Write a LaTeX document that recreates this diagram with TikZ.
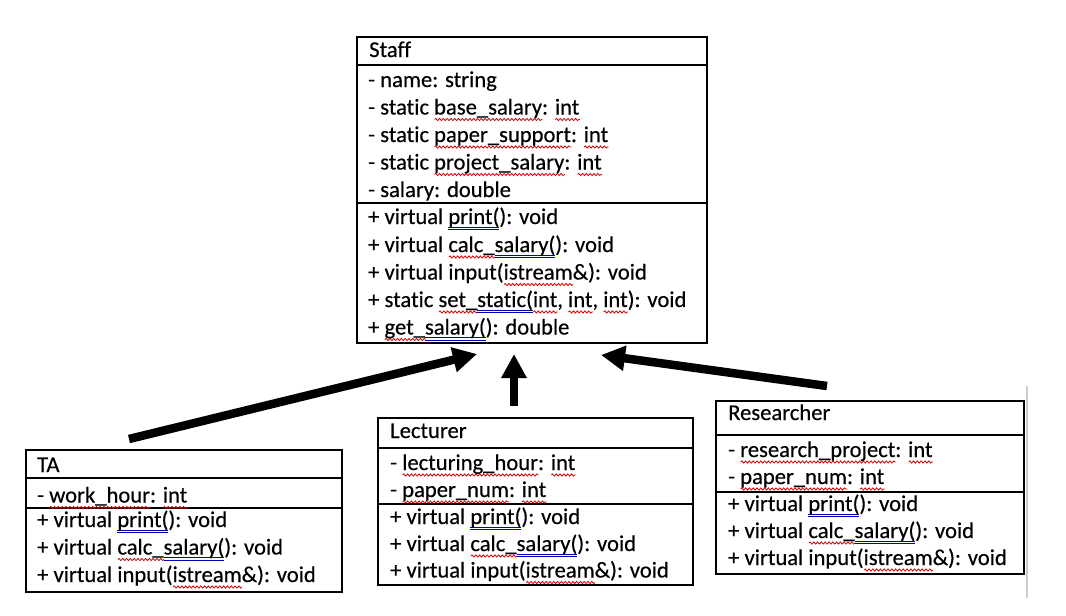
\documentclass[tikz,border=0pt]{standalone}
\usepackage{fontspec}
\setmainfont{Carlito}[Ligatures=NoCommon,FakeBold=0.35]
\usetikzlibrary{arrows.meta,decorations.pathmorphing}
\newsavebox\sqbox
\newlength\sqw
\newcommand\sq[1]{\sbox\sqbox{#1}\setlength\sqw{\wd\sqbox}\rlap{\tikz[baseline=0pt]\draw[red!85!black,line width=0.8pt,decoration={snake,amplitude=1.1pt,segment length=3.8pt},decorate] (0pt,-5pt) -- (\sqw,-5pt);}\usebox\sqbox}
\newcommand\bq[1]{\sbox\sqbox{#1}\setlength\sqw{\wd\sqbox}\rlap{\textcolor{blue!70!black}{\rule[-3.4pt]{\sqw}{0.8pt}}}\rlap{\textcolor{blue!70!black}{\rule[-6pt]{\sqw}{0.8pt}}}\usebox\sqbox}
\begin{document}
\begin{tikzpicture}[x=1pt,y=-1pt,
  cell/.style={draw,line width=1.6pt,anchor=north west,inner sep=0pt,outer sep=0pt},
  txt/.style={anchor=base west,inner sep=0pt,font=\fontsize{22.6}{27}\selectfont},
  inh/.style={line width=8.5pt,-{Triangle[length=24pt,width=24pt]}}]
\useasboundingbox[fill=white] (0,0) rectangle (1066,616);

% Staff
\node[cell,minimum width=350pt,minimum height=28pt] (staffT) at (357,37) {};
\node[cell,minimum width=350pt,minimum height=138pt] (staffA) at (357,65) {};
\node[cell,minimum width=350pt,minimum height=140pt] (staffM) at (357,203) {};
\node[txt] (s0) at (369,57) {Staff};
\node[txt] (s1) at (368,87) {- name: string};
\node[txt] (s2) at (368,114.5) {- static \sq{base\_salary}: \sq{int}};
\node[txt] (s3) at (368,142) {- static \sq{paper\_support}: \sq{int}};
\node[txt] (s4) at (368,169.5) {- static \sq{project\_salary}: \sq{int}};
\node[txt] (s5) at (368,197) {- salary: double};
\node[txt] (s6) at (368,224) {+ virtual \bq{print(}): void};
\node[txt] (s7) at (368,252) {+ virtual \sq{calc\_}\bq{salary(}): void};
\node[txt] (s8) at (368,279.5) {+ virtual input(\sq{istream}\&): void};
\node[txt] (s9) at (368,307) {+ static \sq{set\_}\bq{static(}\sq{int}, \sq{int}, \sq{int}): void};
\node[txt] (s10) at (368,334.5) {+ \sq{get\_}\bq{salary(}): double};

% TA
\node[cell,minimum width=316pt,minimum height=28pt] (taT) at (26,450) {};
\node[cell,minimum width=316pt,minimum height=30pt] (taA) at (26,478) {};
\node[cell,minimum width=316pt,minimum height=84pt] (taM) at (26,508) {};
\node[txt] (t0) at (37,472) {TA};
\node[txt] (t1) at (37,502.5) {- \sq{work\_hour}: \sq{int}};
\node[txt] (t2) at (37,527) {+ virtual \bq{print(}): void};
\node[txt] (t3) at (37,554.5) {+ virtual \sq{calc\_}\bq{salary(}): void};
\node[txt] (t4) at (37,582) {+ virtual input(\sq{istream}\&): void};

% Lecturer
\node[cell,minimum width=315pt,minimum height=30pt] (leT) at (378,418) {};
\node[cell,minimum width=315pt,minimum height=56pt] (leA) at (378,448) {};
\node[cell,minimum width=315pt,minimum height=81pt] (leM) at (378,504) {};
\node[txt] (l0) at (390,438) {Lecturer};
\node[txt] (l1) at (390,470) {- \sq{lecturing\_hour}: \sq{int}};
\node[txt] (l2) at (390,497) {- \sq{paper\_num}: \sq{int}};
\node[txt] (l3) at (390,524) {+ virtual \bq{print(}): void};
\node[txt] (l4) at (390,551) {+ virtual \sq{calc\_}\bq{salary(}): void};
\node[txt] (l5) at (390,577.5) {+ virtual input(\sq{istream}\&): void};

% Researcher
\node[cell,minimum width=308pt,minimum height=34pt] (reT) at (716,401) {};
\node[cell,minimum width=308pt,minimum height=57pt] (reA) at (716,435) {};
\node[cell,minimum width=308pt,minimum height=82pt] (reM) at (716,492) {};
\node[txt] (r0) at (728,420) {Researcher};
\node[txt] (r1) at (728,457) {- \sq{research\_project}: \sq{int}};
\node[txt] (r2) at (728,484) {- \sq{paper\_num}: \sq{int}};
\node[txt] (r3) at (728,511) {+ virtual \bq{print(}): void};
\node[txt] (r4) at (728,538) {+ virtual \sq{calc\_}\bq{salary(}): void};
\node[txt] (r5) at (728,565) {+ virtual input(\sq{istream}\&): void};

% page edge mark
\draw[gray!40,line width=2pt] (1027,386) -- (1027,598);

% inheritance arrows
\coordinate (taTail) at (129,439);
\coordinate (tipL) at (477,354);
\coordinate (leTail) at (514,406);
\coordinate (tipM) at (514,354);
\coordinate (reTail) at (827,386);
\coordinate (tipR) at (601,355);
\draw[inh] (taTail) -- (tipL);
\draw[inh] (leTail) -- (tipM);
\draw[inh] (reTail) -- (tipR);
\end{tikzpicture}
\end{document}
